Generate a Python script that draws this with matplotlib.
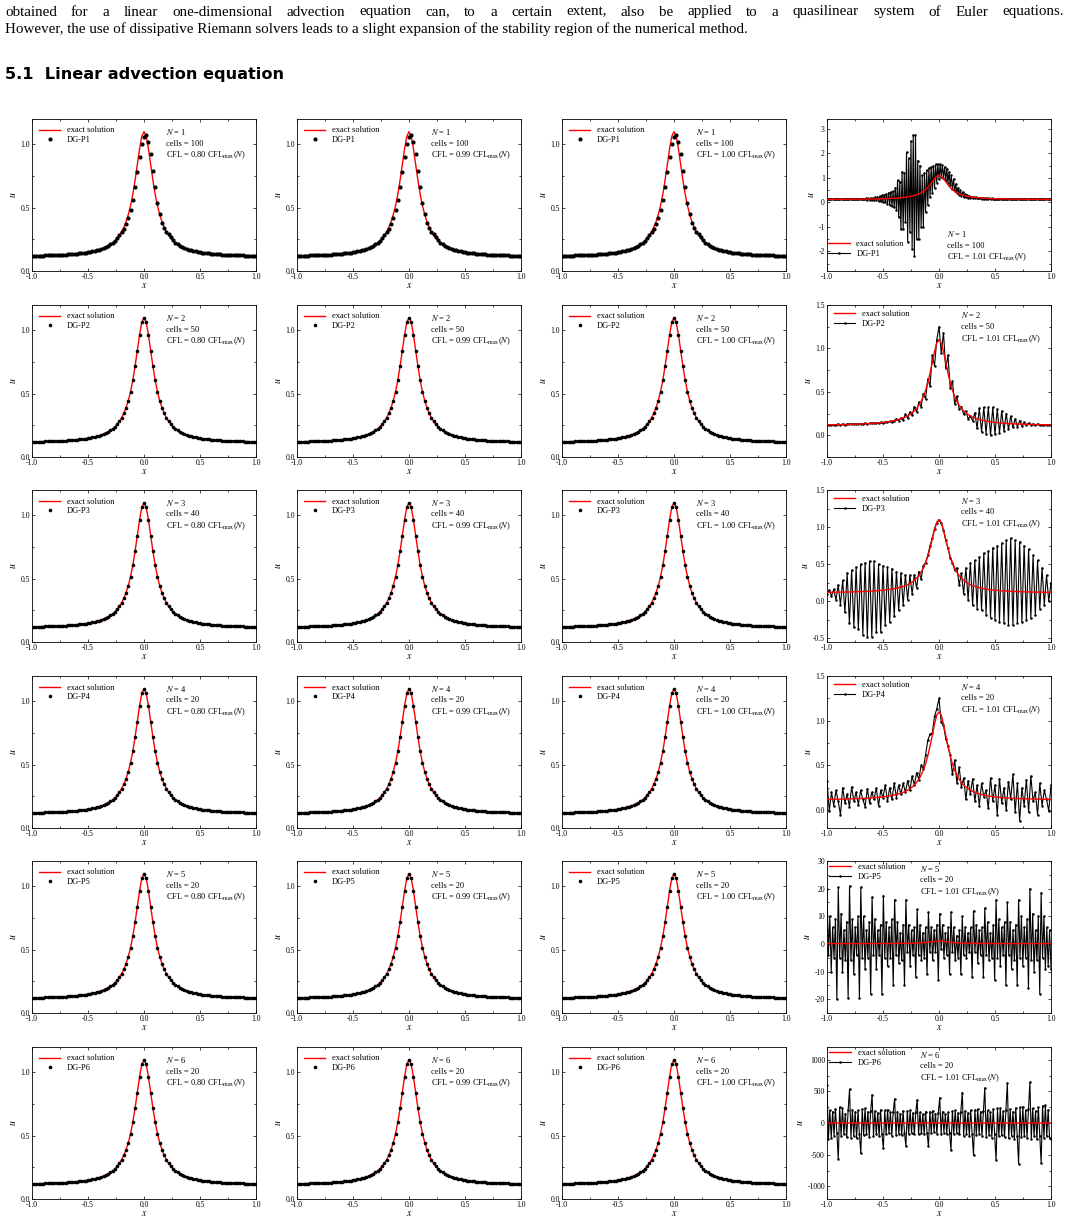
import numpy as np
import matplotlib
matplotlib.use('Agg')
import matplotlib.pyplot as plt
from matplotlib.ticker import MultipleLocator

plt.rcParams['font.family'] = ['Liberation Serif', 'DejaVu Serif']
plt.rcParams['mathtext.fontset'] = 'stix'
plt.rcParams['axes.unicode_minus'] = False

W, H = 1069, 1222

# page text around the figure
para_line1 = ("obtained for a linear one-dimensional advection equation can, to a certain extent, "
              "also be applied to a quasilinear system of Euler equations.")
para_line2 = ("However, the use of dissipative Riemann solvers leads to a slight expansion "
              "of the stability region of the numerical method.")
heading = "5.1  Linear advection equation"

# exact solution, read at x = 0.00, 0.02, ..., 1.00 (profile is symmetric)
u_exact_right = [1.100, 1.062, 0.963, 0.838, 0.715, 0.605, 0.517, 0.446, 0.390, 0.345,
                 0.310, 0.281, 0.258, 0.239, 0.223, 0.210, 0.199, 0.190, 0.182, 0.175,
                 0.169, 0.164, 0.159, 0.155, 0.152, 0.148, 0.146, 0.143, 0.141, 0.139,
                 0.137, 0.135, 0.134, 0.132, 0.131, 0.130, 0.129, 0.128, 0.127, 0.126,
                 0.125, 0.125, 0.124, 0.123, 0.123, 0.122, 0.122, 0.121, 0.121, 0.120,
                 0.120]
u_exact = np.array(u_exact_right[:0:-1] + u_exact_right)

# DG-P1, stable CFL (x = -1.00 .. 1.00 step 0.02)
u_dg1_stable = [0.120, 0.120, 0.121, 0.121, 0.122, 0.122, 0.123, 0.123, 0.124, 0.125,
                0.125, 0.126, 0.127, 0.128, 0.129, 0.130, 0.131, 0.132, 0.134, 0.135,
                0.137, 0.139, 0.141, 0.143, 0.146, 0.148, 0.152, 0.155, 0.159, 0.164,
                0.169, 0.175, 0.182, 0.190, 0.199, 0.210, 0.223, 0.239, 0.258, 0.281,
                0.305, 0.335, 0.370, 0.420, 0.480, 0.560, 0.660, 0.780, 0.900, 1.000,
                1.060, 1.070, 1.020, 0.920, 0.790, 0.660, 0.540, 0.450, 0.380, 0.340,
                0.310, 0.290, 0.270, 0.245, 0.225, 0.210, 0.199, 0.190, 0.182, 0.175,
                0.169, 0.164, 0.159, 0.155, 0.152, 0.148, 0.146, 0.143, 0.141, 0.139,
                0.137, 0.135, 0.134, 0.132, 0.131, 0.130, 0.129, 0.128, 0.127, 0.126,
                0.125, 0.125, 0.124, 0.123, 0.123, 0.122, 0.122, 0.121, 0.121, 0.120,
                0.120]

# unstable runs, CFL = 1.01 CFL_max(N)
u_dg1_unstable = [  # x step 0.01
    0.12, 0.13, 0.12, 0.13, 0.12, 0.13, 0.12, 0.13, 0.12, 0.13,
    0.12, 0.13, 0.12, 0.13, 0.12, 0.13, 0.12, 0.13, 0.12, 0.13,
    0.12, 0.14, 0.12, 0.14, 0.12, 0.14, 0.12, 0.14, 0.12, 0.14,
    0.12, 0.15, 0.12, 0.15, 0.12, 0.16, 0.11, 0.16, 0.11, 0.17,
    0.10, 0.18, 0.09, 0.20, 0.08, 0.22, 0.06, 0.25, 0.05, 0.28,
    0.02, 0.32, 0.00, 0.36, -0.05, 0.40, -0.10, 0.42, -0.15, 0.45,
    -0.20, 0.60, -0.30, 0.90, -0.60, 0.85, -1.10, 1.25, -1.10, 1.20,
    -0.80, 2.05, -1.60, 1.80, -1.20, 2.50, -1.90, 2.75, -2.20, 2.75,
    -1.50, 1.70, -1.50, 1.50, -1.00, 1.10, -1.00, 1.20, -0.40, 1.30,
    -0.10, 1.40, 0.20, 1.45, 0.40, 1.50, 0.60, 1.55, 0.80, 1.55,
    0.95, 1.55, 1.05, 1.52, 1.00, 1.45, 0.90, 1.38, 0.80, 1.25,
    0.70, 1.10, 0.55, 0.95, 0.45, 0.75, 0.38, 0.60, 0.30, 0.50,
    0.25, 0.42, 0.22, 0.35, 0.20, 0.30, 0.19, 0.26, 0.18, 0.23,
    0.17, 0.21, 0.17, 0.20, 0.16, 0.19, 0.16, 0.18, 0.15, 0.17,
    0.15, 0.17, 0.15, 0.16, 0.14, 0.16, 0.14, 0.16, 0.14, 0.15,
    0.14, 0.15, 0.14, 0.15, 0.13, 0.15, 0.13, 0.15, 0.13, 0.14,
    0.13, 0.14, 0.13, 0.14, 0.13, 0.14, 0.13, 0.14, 0.13, 0.14,
    0.12, 0.13, 0.12, 0.13, 0.12, 0.13, 0.12, 0.13, 0.12, 0.13,
    0.12, 0.13, 0.12, 0.13, 0.12, 0.13, 0.12, 0.13, 0.12, 0.13,
    0.12, 0.13, 0.12, 0.13, 0.12, 0.13, 0.12, 0.13, 0.12, 0.13,
    0.12]

u_dg2_unstable = [  # x step 0.02
    0.12, 0.12, 0.12, 0.12, 0.12, 0.13, 0.12, 0.13, 0.12, 0.13,
    0.13, 0.13, 0.13, 0.13, 0.13, 0.13, 0.13, 0.14, 0.13, 0.14,
    0.14, 0.14, 0.14, 0.14, 0.15, 0.14, 0.15, 0.15, 0.16, 0.15,
    0.17, 0.19, 0.17, 0.20, 0.18, 0.24, 0.20, 0.27, 0.23, 0.33,
    0.27, 0.38, 0.33, 0.48, 0.42, 0.65, 0.57, 0.92, 0.80, 1.10,
    1.25, 0.95, 1.18, 0.77, 0.92, 0.55, 0.62, 0.36, 0.45, 0.30,
    0.33, 0.24, 0.28, 0.19, 0.22, 0.17, 0.26, 0.08, 0.31, 0.04,
    0.32, 0.02, 0.32, 0.00, 0.32, 0.01, 0.30, 0.03, 0.28, 0.05,
    0.25, 0.07, 0.22, 0.09, 0.19, 0.10, 0.17, 0.11, 0.15, 0.12,
    0.14, 0.12, 0.13, 0.12, 0.13, 0.12, 0.12, 0.12, 0.12, 0.12,
    0.12]

u_dg3_unstable = [  # x step 0.02
    0.10, 0.15, 0.07, 0.16, 0.02, 0.22, -0.05, 0.28, -0.15, 0.38,
    -0.30, 0.42, -0.35, 0.46, -0.38, 0.50, -0.45, 0.52, -0.48, 0.54,
    -0.48, 0.54, -0.42, 0.50, -0.42, 0.48, -0.32, 0.46, -0.28, 0.44,
    -0.20, 0.40, -0.12, 0.38, -0.05, 0.36, 0.02, 0.35, 0.10, 0.36,
    0.18, 0.40, 0.30, 0.48, 0.52, 0.62, 0.75, 0.85, 0.98, 1.06,
    1.10, 1.05, 0.96, 0.82, 0.72, 0.58, 0.52, 0.42, 0.45, 0.22,
    0.38, 0.10, 0.45, 0.02, 0.52, -0.05, 0.55, -0.10, 0.60, -0.12,
    0.65, -0.18, 0.68, -0.22, 0.72, -0.25, 0.75, -0.28, 0.78, -0.30,
    0.82, -0.32, 0.85, -0.32, 0.82, -0.30, 0.80, -0.28, 0.75, -0.25,
    0.70, -0.22, 0.62, -0.18, 0.55, -0.10, 0.45, -0.05, 0.35, 0.00,
    0.25]

u_dg4_unstable = [  # x step 0.02
    0.33, -0.01, 0.20, 0.05, 0.22, 0.10, -0.05, 0.25, 0.08, 0.18,
    0.04, 0.26, 0.10, 0.20, 0.06, 0.22, 0.12, 0.04, 0.24, 0.08,
    0.20, 0.12, 0.25, 0.05, 0.22, 0.14, 0.28, 0.10, 0.25, 0.12,
    0.30, 0.14, 0.28, 0.18, 0.30, 0.20, 0.33, 0.22, 0.38, 0.28,
    0.42, 0.34, 0.50, 0.46, 0.62, 0.78, 0.85, 0.86, 1.05, 1.13,
    1.25, 0.98, 0.95, 0.80, 0.72, 0.62, 0.40, 0.56, 0.30, 0.48,
    0.26, 0.36, 0.12, 0.33, 0.18, 0.35, 0.10, 0.28, 0.05, 0.30,
    0.15, 0.22, 0.02, 0.36, 0.10, 0.28, -0.05, 0.35, 0.08, 0.25,
    0.00, 0.32, 0.12, 0.40, -0.02, 0.30, -0.12, 0.25, 0.05, 0.34,
    -0.02, 0.38, 0.10, 0.20, -0.05, 0.30, 0.05, 0.22, 0.12, -0.01,
    0.28]

u_dg5_unstable = [  # 8 points per cell, 20 cells
    20.0, -4, 10, -10, 6, -5, 9, -20,
    20.5, -5, 11, -10, 5, -6, 8, -19.5,
    21.0, -6, 9, -11, 6, -4, 10, -19.5,
    20.5, -5, 10, -9, 5, -5, 8, -18,
    17.0, -4, 9, -9, 5, -4, 7, -18,
    17.5, -5, 8, -8, 6, -5, 9, -15,
    16.0, -4, 8, -7, 4, -6, 7, -15,
    16.0, -3, 7, -8, 5, -4, 6, -12,
    12.5, -4, 7, -6, 4, -5, 6, -11,
    11.5, -3, 6, -6, 5, -3, 7, -13,
    11.0, -2, 7, -5, 4, -4, 6, -11,
    11.5, -3, 6, -6, 3, -5, 5, -11,
    10.0, -4, 6, -5, 4, -3, 6, -12,
    12.0, -3, 7, -7, 5, -4, 6, -12,
    13.0, -4, 8, -6, 4, -5, 7, -13,
    16.0, -5, 9, -8, 6, -4, 8, -15,
    15.0, -4, 8, -9, 5, -6, 7, -15,
    16.0, -5, 10, -8, 6, -5, 9, -16,
    20.0, -6, 11, -10, 5, -6, 10, -18,
    18.5, -5, 10, -9, 6, -8, 5, -9]

u_dg6_unstable = [  # 8 points per cell, 20 cells
    600, -250, 200, -230, 180, -200, 220, -150,
    -570, 250, -200, 230, -180, 150, -220, 200,
    535, -230, 210, -200, 180, -240, 200, -180,
    -480, 220, -190, 230, -170, 180, -220, 190,
    445, -200, 190, -180, 160, -210, 210, -170,
    -400, 200, -180, 210, -160, 170, -200, 180,
    385, -190, 180, -170, 150, -190, 190, -160,
    -360, 190, -170, 200, -150, 160, -180, 170,
    365, -180, 170, -160, 140, -180, 180, -150,
    -370, 180, -160, 190, -140, 150, -170, 160,
    400, -170, 180, -150, 140, -170, 170, -160,
    -430, 190, -170, 200, -150, 160, -180, 180,
    480, -200, 190, -170, 160, -200, 200, -170,
    -510, 210, -190, 220, -170, 180, -200, 190,
    555, -220, 200, -190, 170, -230, 220, -180,
    -590, 230, -210, 240, -190, 190, -220, 210,
    630, -240, 220, -200, 180, -250, 240, -200,
    -640, 250, -220, 260, -200, 200, -230, 220,
    645, -250, 230, -210, 190, -260, 250, -200,
    -630, 270, -230, 280, -210, 210, -240, -250]

orders = [1, 2, 3, 4, 5, 6]
cells = [100, 50, 40, 20, 20, 20]
cfl_factors = ['0.80', '0.99', '1.00', '1.01']
unstable = [u_dg1_unstable, u_dg2_unstable, u_dg3_unstable,
            u_dg4_unstable, u_dg5_unstable, u_dg6_unstable]
unstable_ylim = [(-2.8, 3.4), (-0.25, 1.5), (-0.55, 1.5), (-0.2, 1.5), (-25, 30), (-1200, 1200)]
unstable_ystep = [1, 0.5, 0.5, 0.5, 10, 500]

col_left = [32, 297, 562, 827]
row_top = [119, 305, 490, 676, 861, 1047]
ax_w, ax_h = 224, 152
fs = 6.0

fig = plt.figure(figsize=(W / 100, H / 100), dpi=100)

# page text
renderer = fig.canvas.get_renderer()
t2 = fig.text(5 / W, 1 - 29 / H, para_line2, fontsize=10, va='center')
para_fs = 10 * 745 / t2.get_window_extent(renderer).width
t2.set_fontsize(para_fs)
words = para_line1.split()
arts = [fig.text(0, 1 - 12 / H, w, fontsize=para_fs, va='center') for w in words]
widths = [a.get_window_extent(renderer).width for a in arts]
gap = (1064 - 5 - sum(widths)) / (len(words) - 1)
pos = 5
for a, w in zip(arts, widths):
    a.set_x(pos / W)
    pos += w + gap
th = fig.text(5 / W, 1 - 75 / H, heading, fontsize=11, fontweight='bold',
              family='DejaVu Sans', va='center')
th.set_fontsize(11 * 276 / th.get_window_extent(renderer).width)

x_stable = np.linspace(-1, 1, len(u_exact))

for r in range(6):
    for c in range(4):
        ax = fig.add_axes([col_left[c] / W, 1 - (row_top[r] + ax_h) / H, ax_w / W, ax_h / H])
        if c < 3:
            u_dg = u_dg1_stable if r == 0 else u_exact
            ax.plot(x_stable, u_exact, color='red', lw=1.0, zorder=2, label='exact solution')
            ax.plot(x_stable, u_dg, ls='none', marker='o', ms=3.0 if r == 0 else 2.6, mew=0,
                    color='black', zorder=3, label='DG-P%d' % orders[r])
            ax.set_ylim(0, 1.2)
            ax.yaxis.set_major_locator(MultipleLocator(0.5))
            ax.yaxis.set_minor_locator(MultipleLocator(0.25))
            top_c = 12.7
            tx = 0.60
            leg_x = 0.03
        else:
            u_dg = unstable[r]
            x_dg = np.linspace(-1, 1, len(u_dg))
            ax.plot(x_dg, u_dg, color='black', lw=0.8, marker='o', ms=1.8, mew=0,
                    zorder=2, label='DG-P%d' % orders[r])
            ax.plot(x_stable, u_exact, color='red', lw=1.0, zorder=3, label='exact solution')
            ax.set_ylim(*unstable_ylim[r])
            ax.yaxis.set_major_locator(MultipleLocator(unstable_ystep[r]))
            ax.yaxis.set_minor_locator(MultipleLocator(unstable_ystep[r] / 2))
            if r == 0:
                top_c = ax_h - 0.245 * ax_h
                tx = 0.535
                leg_x = 0.005
            elif r >= 4:
                top_c = 7.5
                tx = 0.415
                leg_x = 0.01
            else:
                top_c = 10.5
                tx = 0.60
                leg_x = 0.03
        ax.set_xlim(-1, 1)
        ax.xaxis.set_major_locator(MultipleLocator(0.5))
        ax.xaxis.set_minor_locator(MultipleLocator(0.25))
        ax.tick_params(which='both', direction='in', top=True, right=True,
                       labelsize=5.5, width=0.5, pad=1.5)
        ax.tick_params(which='major', length=2.5)
        ax.tick_params(which='minor', length=1.3)
        for s in ax.spines.values():
            s.set_linewidth(0.6)
        ax.set_xlabel('$x$', fontsize=7, labelpad=0)
        ax.set_ylabel('$u$', fontsize=7, labelpad=2)

        # annotation block
        lines = ['$N$ = %d' % orders[r], 'cells = %d' % cells[r],
                 r'CFL = %s CFL$_{\rm max}$($N$)' % cfl_factors[c]]
        for k, txt in enumerate(lines):
            yc = 1 - (top_c + 11.8 * k) / ax_h
            ax.text(tx, yc, txt, transform=ax.transAxes, fontsize=fs, va='center')

        # legend, first entry aligned with the text block
        handles, labels = ax.get_legend_handles_labels()
        if c == 3:
            handles, labels = handles[::-1], labels[::-1]
        if r == 0 and c == 3:
            leg_top = 1 - (top_c + 11.8 - 5.2) / ax_h
        else:
            leg_top = 1 - (top_c - 5.2) / ax_h
        ax.legend(handles, labels, loc='upper left', bbox_to_anchor=(leg_x, leg_top),
                  frameon=False, fontsize=fs, borderpad=0, borderaxespad=0,
                  handlelength=2.6, handletextpad=0.8, labelspacing=0.22, numpoints=1)

fig.savefig('out.png', dpi=100)
